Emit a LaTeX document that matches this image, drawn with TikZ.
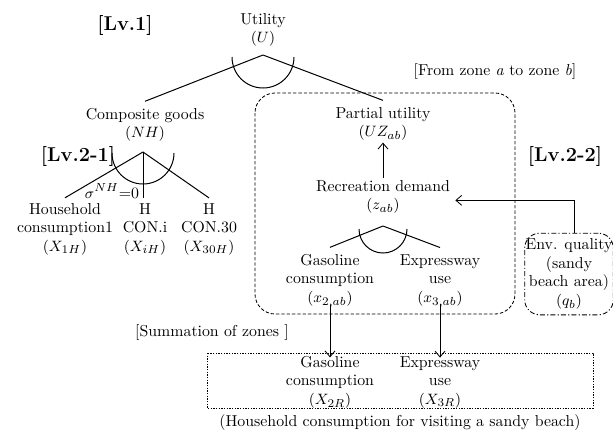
\documentclass[tikz,border=0pt]{standalone}
\usetikzlibrary{arrows.meta,calc}
\begin{document}
\begin{tikzpicture}[x=0.6pt,y=-0.6pt,
  txt/.style={align=center,inner sep=1pt,font=\fontsize{9.5}{11.1}\selectfont},
  lvl/.style={inner sep=1pt,font=\fontsize{12}{14}\selectfont\bfseries},
  branch/.style={line width=0.6pt},
  arr/.style={line width=0.5pt,-{Straight Barb[length=3.5pt,width=6pt]}},
  dashbox/.style={line width=0.5pt,dash pattern=on 2pt off 1.2pt,rounded corners=12pt},
  dotbox/.style={line width=0.5pt,dash pattern=on 0.8pt off 0.8pt},
  dashdot/.style={line width=0.5pt,dash pattern=on 3pt off 1.3pt on 0.7pt off 1.3pt,rounded corners=9pt}]
\useasboundingbox (0,0) rectangle (613,435);

% labels
\node[lvl] (lv1) at (125,25) {[Lv.1]};
\node[lvl] (lv21) at (78,156) {[Lv.2-1]};
\node[lvl] (lv22) at (565,156) {[Lv.2-2]};
\node[txt] (zone) at (495,72) {[From zone \textit{a} to zone \textit{b}]};
\node[txt] (summ) at (212,333) {[Summation of zones ]};
\node[txt] (capt) at (400,423) {(Household consumption for visiting a sandy beach)};

% frames
\draw[dashbox] (255,93) rectangle (515,314);
\draw[dotbox] (207,353) rectangle (593,408);

% level 1
\node[txt] (util) at (263,30) {Utility\\$(U)$};
\coordinate (uA) at (263,55);
\node[txt] (comp) at (145,125) {Composite goods\\$(NH)$};
\node[txt] (pu) at (383,124) {Partial utility\\$(UZ_{ab})$};
\draw[branch] (uA) -- ([yshift=3pt]comp.north);
\draw[branch] (uA) -- ([yshift=3pt]pu.north);
\draw[branch] (232,57) arc[start angle=180,end angle=360,radius=18.6pt];

% level 2-1
\coordinate (nA) at (143,152);
\node[txt] (hh) at (65,229) {Household\\consumption1\\$(X_{1H})$};
\node[txt] (hci) at (145,229) {H\\CON.i\\$(X_{iH})$};
\node[txt] (h30) at (209,229) {H\\CON.30\\$(X_{30H})$};
\draw[branch] (nA) -- ([yshift=2pt]hh.north);
\draw[branch] (nA) -- ([yshift=2pt]hci.north -| nA);
\draw[branch] (nA) -- ([yshift=2pt]h30.north);
\draw[branch] (112,153) arc[start angle=180,end angle=360,radius=18.6pt];
\node[txt] (sig) at (112,191) {$\sigma^{NH}$=0};

% level 2-2
\node[txt] (rec) at (383,197) {Recreation demand\\$(z_{ab})$};
\draw[arr] (rec.north) -- (pu.south);
\coordinate (zA) at (383,226);
\node[txt] (gas) at (330,281) {Gasoline\\consumption\\$(x_{2,ab})$};
\node[txt] (exw) at (440,281) {Expressway\\use\\$(x_{3,ab})$};
\draw[branch] (zA) -- ([yshift=3pt]gas.north);
\draw[branch] (zA) -- ([yshift=3pt]exw.north);
\draw[branch] (359,229) arc[start angle=180,end angle=360,radius=14.4pt];

% environment
\node[txt,draw,dashdot,minimum width=52pt,minimum height=49pt,inner sep=0.5pt] (env) at (569,274) {Env. quality\\(sandy\\beach area)\\$(q_b)$};
\draw[arr] ([xshift=3pt]env.north) |- ([xshift=2pt,yshift=-2pt]rec.east);

% summation
\node[txt] (gasR) at (330,382) {Gasoline\\consumption\\$(X_{2R})$};
\node[txt] (exwR) at (440,382) {Expressway\\use\\$(X_{3R})$};
\draw[arr] ([yshift=3pt]gas.south) -- ([yshift=-2pt]gasR.north);
\draw[arr] ([yshift=3pt]exw.south) -- ([yshift=-2pt]exwR.north);
\end{tikzpicture}
\end{document}
